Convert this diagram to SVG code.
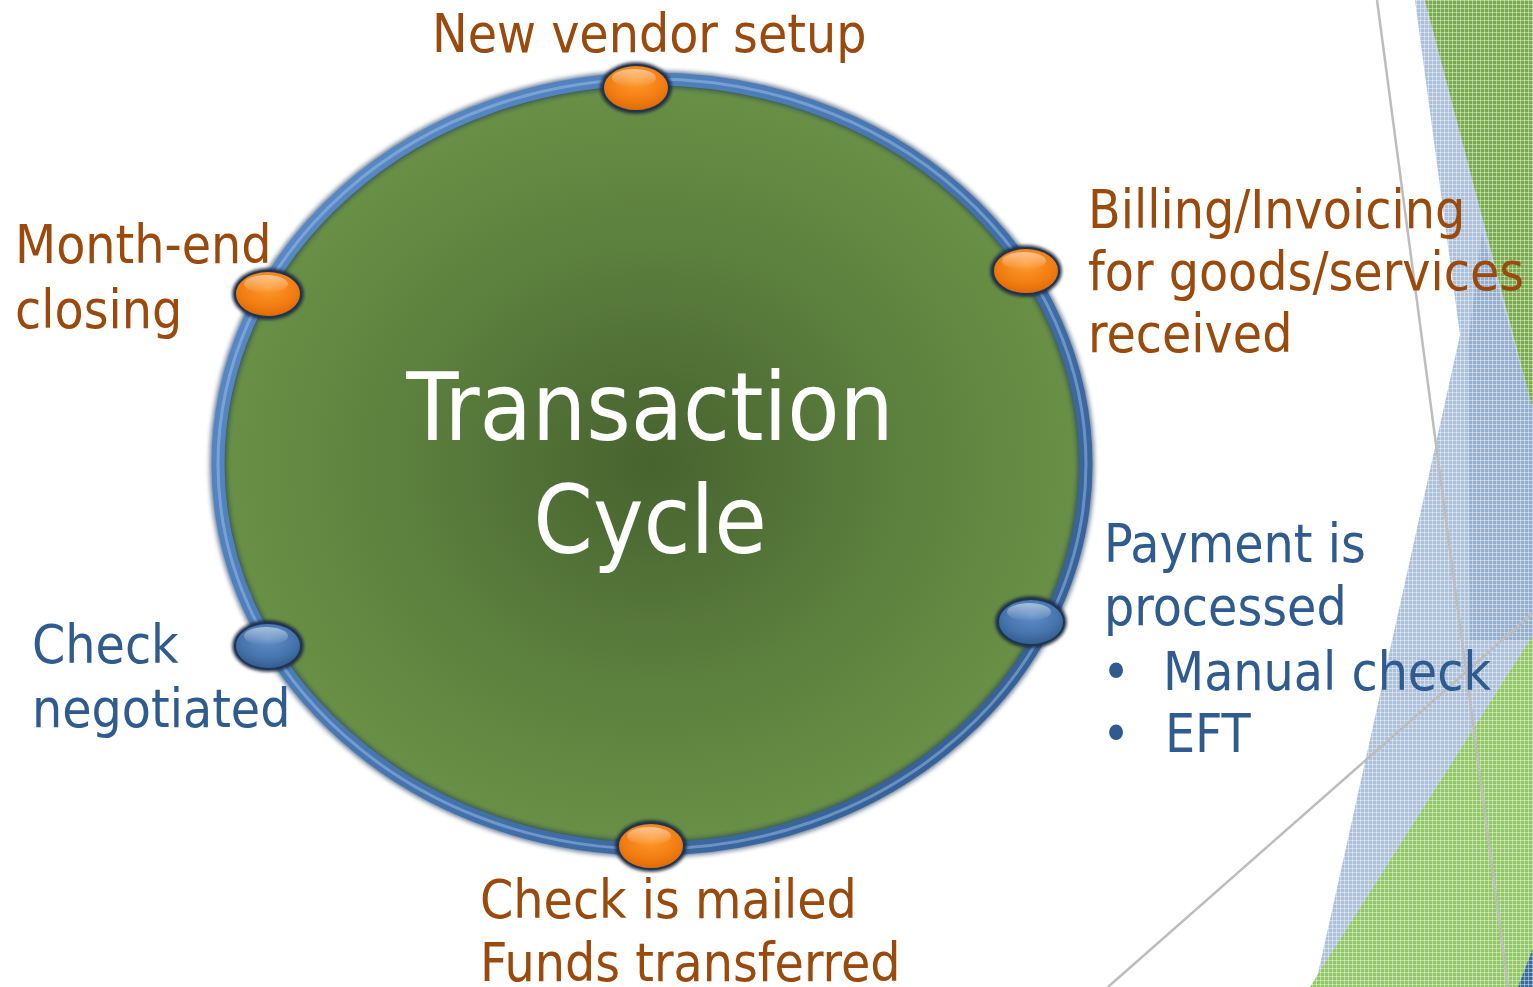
<svg xmlns="http://www.w3.org/2000/svg" width="1533" height="987" viewBox="0 0 1533 987">
  <defs>
    <style>
      .lbl { font-family: "DejaVu Sans Condensed", "DejaVu Sans", "Liberation Sans", sans-serif; font-stretch: condensed; font-size: 53px; }
      .brown { fill: #9a4a0c; }
      .blue { fill: #2f5b8f; }
      .title { font-family: "DejaVu Sans Condensed", "DejaVu Sans", "Liberation Sans", sans-serif; font-stretch: condensed; font-size: 95px; fill: #ffffff; text-anchor: middle; }
      .deco-line { stroke: #bdbdbd; stroke-width: 2.5; fill: none; }
      .node-halo { fill: #14263d; fill-opacity: 0.85; }
      .node-edge { stroke: #1d3554; stroke-width: 2; }
    </style>
    <!-- fine screen texture used on the corner panels -->
    <pattern id="grid" width="4" height="4" patternUnits="userSpaceOnUse">
      <rect x="0" y="0" width="4" height="1" fill="#ffffff" fill-opacity="0.4"/>
      <rect x="0" y="0" width="1" height="4" fill="#ffffff" fill-opacity="0.4"/>
    </pattern>
    <radialGradient id="disc" cx="652" cy="464" r="440" gradientUnits="userSpaceOnUse" gradientTransform="translate(652 464) scale(1 0.89) translate(-652 -464)">
      <stop offset="0" stop-color="#47632f"/>
      <stop offset="0.55" stop-color="#5b7f3d"/>
      <stop offset="1" stop-color="#6a9147"/>
    </radialGradient>
    <linearGradient id="ringGrad" x1="200" y1="80" x2="1100" y2="850" gradientUnits="userSpaceOnUse">
      <stop offset="0" stop-color="#5f90cc"/>
      <stop offset="0.5" stop-color="#4675b0"/>
      <stop offset="1" stop-color="#2f5a8e"/>
    </linearGradient>
    <radialGradient id="orange" cx="0.5" cy="0.35" r="0.7">
      <stop offset="0" stop-color="#ff9a2e"/>
      <stop offset="0.6" stop-color="#f27d12"/>
      <stop offset="1" stop-color="#d86500"/>
    </radialGradient>
    <radialGradient id="steel" cx="0.5" cy="0.35" r="0.7">
      <stop offset="0" stop-color="#5f8fca"/>
      <stop offset="0.6" stop-color="#4673ab"/>
      <stop offset="1" stop-color="#2f5686"/>
    </radialGradient>
    <linearGradient id="gloss" x1="0" y1="0" x2="0" y2="1">
      <stop offset="0" stop-color="#ffffff" stop-opacity="0.5"/>
      <stop offset="1" stop-color="#ffffff" stop-opacity="0"/>
    </linearGradient>
    <filter id="soft" x="-10%" y="-10%" width="120%" height="120%">
      <feGaussianBlur stdDeviation="2"/>
    </filter>
    <filter id="halo" x="-30%" y="-30%" width="160%" height="160%">
      <feGaussianBlur stdDeviation="1.6"/>
    </filter>
  </defs>

  <rect x="0" y="0" width="1533" height="987" fill="#ffffff"/>

  <!-- corner panels -->
  <g id="corner-panels">
    <polygon points="1415,0 1533,0 1533,987 1315,987 1460,335" fill="#adc0da"/>
    <polygon points="1482,232 1533,410 1533,640 1470,640 1468,345" fill="#8aa6c9" fill-opacity="0.7"/>
    <polygon points="1425,0 1533,0 1533,410" fill="#7aab4c"/>
    <polygon points="1533,635 1533,987 1310,987" fill="#92c765"/>
    <polygon points="1518,987 1533,987 1533,948" fill="#3d6a9c"/>
    <polygon points="1415,0 1533,0 1533,987 1310,987 1460,335" fill="url(#grid)"/>
    <line class="deco-line" x1="1377" y1="0" x2="1508" y2="987"/>
    <line class="deco-line" x1="1108" y1="987" x2="1533" y2="613" stroke="#d0d0d0"/>
  </g>

  <!-- central disc -->
  <g id="cycle-disc">
    <ellipse cx="652" cy="464" rx="433" ry="384" fill="url(#disc)"/>
    <text class="title" x="650" y="440">Transaction</text>
    <text class="title" x="650" y="553">Cycle</text>
  </g>

  <g id="connectors">
    <ellipse cx="652" cy="464" rx="434" ry="385" fill="none" stroke="#1a3658" stroke-width="17" stroke-opacity="0.6" filter="url(#soft)"/>
    <ellipse cx="652" cy="464" rx="434" ry="385" fill="none" stroke="url(#ringGrad)" stroke-width="13"/>
    <ellipse cx="652" cy="464" rx="434" ry="385" fill="none" stroke="#a6c8f2" stroke-width="3" stroke-opacity="0.45"/>
  </g>

  <!-- steps around the cycle -->
  <g id="node-new-vendor">
    <ellipse class="node-halo" cx="636" cy="88" rx="36" ry="26" filter="url(#halo)"/>
    <ellipse class="node-edge" cx="636" cy="88" rx="33" ry="23" fill="url(#orange)"/>
    <ellipse cx="634" cy="78" rx="22" ry="9" fill="url(#gloss)"/>
    <text class="lbl brown" x="432" y="52">New vendor setup</text>
  </g>

  <g id="node-billing">
    <ellipse class="node-halo" cx="1026" cy="271" rx="36" ry="26" filter="url(#halo)"/>
    <ellipse class="node-edge" cx="1026" cy="271" rx="33" ry="23" fill="url(#orange)"/>
    <ellipse cx="1024" cy="261" rx="22" ry="9" fill="url(#gloss)"/>
    <text class="lbl brown" x="1088" y="228">Billing/Invoicing</text>
    <text class="lbl brown" x="1088" y="290">for goods/services</text>
    <text class="lbl brown" x="1088" y="352">received</text>
  </g>

  <g id="node-payment">
    <ellipse class="node-halo" cx="1031" cy="622" rx="36" ry="26" filter="url(#halo)"/>
    <ellipse class="node-edge" cx="1031" cy="622" rx="33" ry="23" fill="url(#steel)"/>
    <ellipse cx="1029" cy="612" rx="22" ry="9" fill="url(#gloss)"/>
    <text class="lbl blue" x="1104" y="562">Payment is</text>
    <text class="lbl blue" x="1104" y="625">processed</text>
    <text class="lbl blue" x="1102" y="690">•</text>
    <text class="lbl blue" x="1163" y="690">Manual check</text>
    <text class="lbl blue" x="1102" y="752">•</text>
    <text class="lbl blue" x="1165" y="752">EFT</text>
  </g>

  <g id="node-mailed">
    <ellipse class="node-halo" cx="651" cy="846" rx="36" ry="26" filter="url(#halo)"/>
    <ellipse class="node-edge" cx="651" cy="846" rx="33" ry="23" fill="url(#orange)"/>
    <ellipse cx="649" cy="836" rx="22" ry="9" fill="url(#gloss)"/>
    <text class="lbl brown" x="480" y="918">Check is mailed</text>
    <text class="lbl brown" x="480" y="981">Funds transferred</text>
  </g>

  <g id="node-negotiated">
    <ellipse class="node-halo" cx="268" cy="646" rx="36" ry="26" filter="url(#halo)"/>
    <ellipse class="node-edge" cx="268" cy="646" rx="33" ry="23" fill="url(#steel)"/>
    <ellipse cx="266" cy="636" rx="22" ry="9" fill="url(#gloss)"/>
    <text class="lbl blue" x="32" y="663">Check</text>
    <text class="lbl blue" x="32" y="727">negotiated</text>
  </g>

  <g id="node-month-end">
    <ellipse class="node-halo" cx="268" cy="294" rx="36" ry="26" filter="url(#halo)"/>
    <ellipse class="node-edge" cx="268" cy="294" rx="33" ry="23" fill="url(#orange)"/>
    <ellipse cx="266" cy="284" rx="22" ry="9" fill="url(#gloss)"/>
    <text class="lbl brown" x="15" y="263">Month-end</text>
    <text class="lbl brown" x="15" y="328">closing</text>
  </g>
</svg>
